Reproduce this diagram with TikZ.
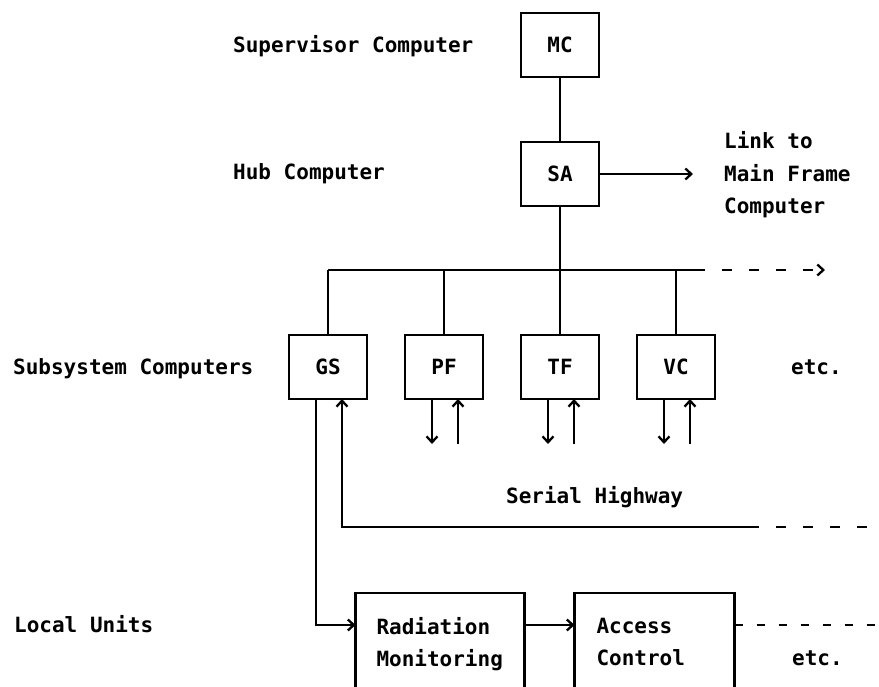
\documentclass[tikz,border=0pt]{standalone}
\usepackage{fontspec}
\setmonofont{DejaVu Sans Mono}
\usetikzlibrary{arrows.meta, calc, positioning}

\begin{document}
\begin{tikzpicture}[x=1pt, y=-1pt, >={Straight Barb[length=6pt, width=11pt]}, line width=2.3pt,
        every node/.style={font=\ttfamily\bfseries\fontsize{21}{32.5}\selectfont},
        unit/.style={draw, minimum width=78pt, minimum height=64pt, inner sep=0pt, outer sep=0pt},
        localunit/.style={draw, minimum height=102pt, inner ysep=0pt, outer sep=0pt, align=left},
        caption/.style={anchor=base west, inner sep=0pt},
        farside/.style={dashed, dash pattern=on 10pt off 17pt}]
    \path[use as bounding box, fill=white] (0,0) rectangle (879,687);
    \clip (0,0) rectangle (879,687);

    % computers
    \node[unit] (mc) at (560,45) {MC};
    \node[unit, below=65pt of mc] (sa) {SA};
    \node[unit] (gs) at (328,367) {GS};
    \node[unit, right=38pt of gs] (pf) {PF};
    \node[unit, right=38pt of pf] (tf) {TF};
    \node[unit, right=38pt of tf] (vc) {VC};

    % local units
    \node[localunit, text width=127pt, inner xsep=21pt] (rad) at (440,644) {Radiation\\Monitoring};
    \node[localunit, text width=116pt, inner xsep=22pt, right=50pt of rad] (acc) {Access\\Control\vphantom{g}};

    % texts
    \node[caption] (suplabel) at (232,53) {Supervisor Computer};
    \node[caption] (hublabel) at (232,180) {Hub Computer};
    \node[caption] (sublabel) at (12,374) {Subsystem Computers};
    \node[caption] (loclabel) at (13,632) {Local Units};
    \node[caption] (etcsub) at (790,374) {etc.};
    \node[caption] (etcloc) at (791,665) {etc.};
    \node[caption] (hwlabel) at (505,503) {Serial Highway};
    \node[anchor=west, inner sep=0pt, align=left] (link) at (723,175) {Link to\\Main Frame\\Computer};

    \coordinate (linkend) at (693,173);
    \coordinate (bussolid) at (695,270);
    \coordinate (busend) at (825,270);
    \coordinate (hwsolid) at (749,527);
    \coordinate (hwend) at (879,527);
    \coordinate (lane) at (879,625);

    % upper links
    \draw (mc) -- (sa);
    \draw[->] (sa.east) -- (sa.east -| linkend);
    \draw (sa) -- (tf);
    \draw (gs.north |- bussolid) -- (bussolid);
    \draw[farside, ->] (bussolid) -- (busend);
    \foreach \u in {gs, pf, vc}
        \draw (\u.north) -- (\u.north |- bussolid);

    % plant signals
    \foreach \u in {pf, tf, vc} {
        \draw[->] ($(\u.south)+(-12,0)$) -- ++(0,45);
        \draw[->] ($(\u.south)+(14,45)$) -- ++(0,-45);
    }

    % serial highway
    \draw[->] ($(gs.south)+(-12,0)$) |- (rad.west |- lane);
    \draw[->] (hwsolid) -| ($(gs.south)+(14,0)$);
    \draw[farside] (hwsolid) -- (hwend);
    \draw[->] (rad.east |- lane) -- (acc.west |- lane);
    \draw[dashed, dash pattern=on 8pt off 14pt] (acc.east |- lane) -- (lane);
\end{tikzpicture}
\end{document}
